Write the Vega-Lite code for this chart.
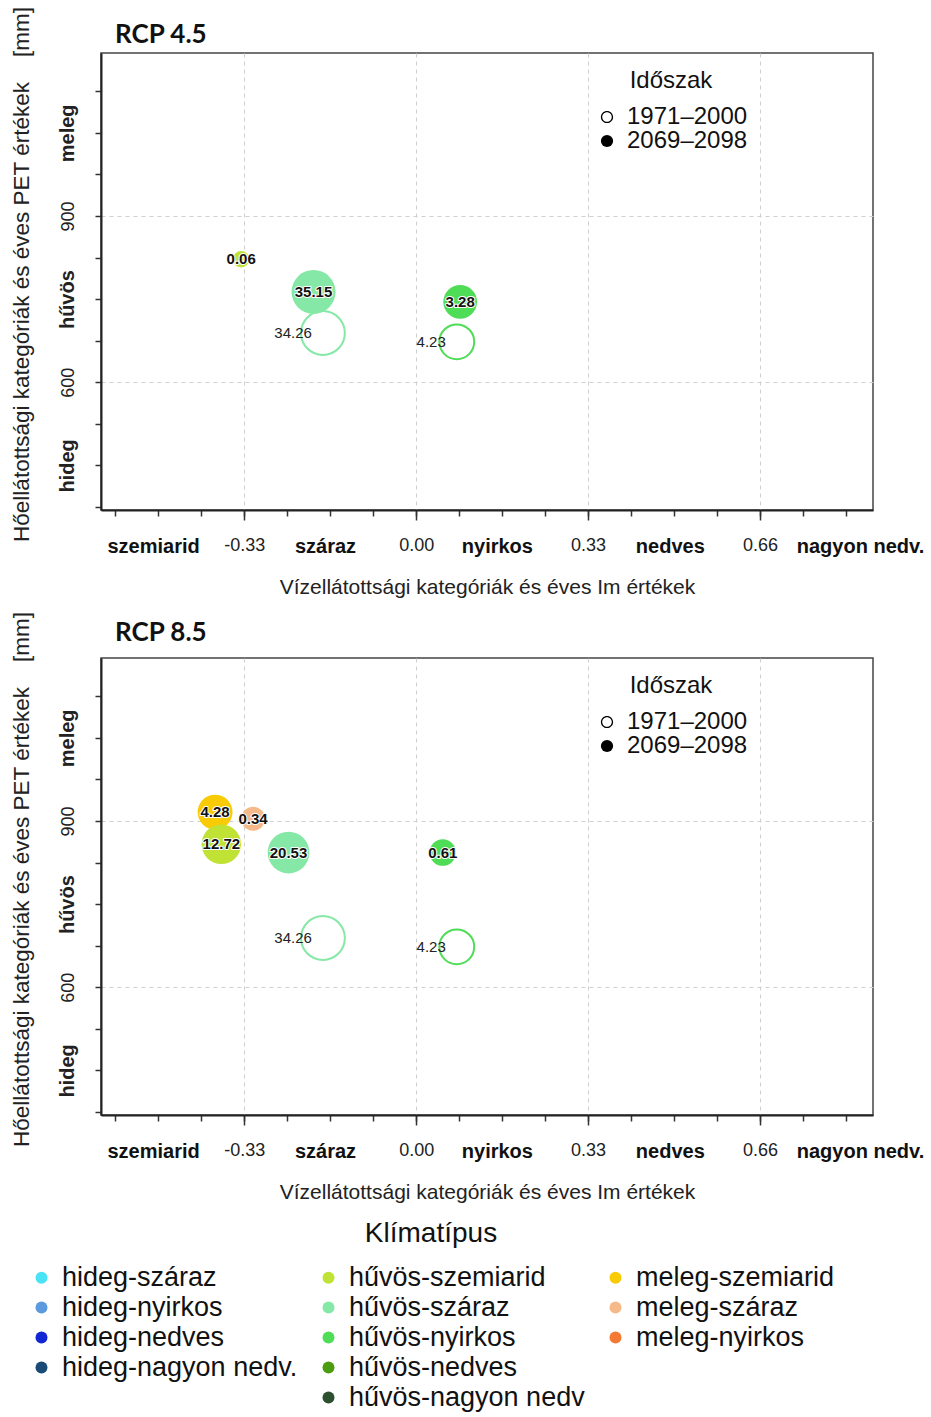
{
  "$schema": "https://vega.github.io/schema/vega-lite/v6.json",
  "background": "white",
  "padding": {"left": 9, "top": 5, "right": 2, "bottom": 2},
  "datasets": {
    "pontok": [
      {"panel": "RCP 4.5", "idoszak": "2069–2098", "klimatipus": "hűvös-szemiarid", "im": -0.336, "pet": 822, "arany": 0.06},
      {"panel": "RCP 4.5", "idoszak": "2069–2098", "klimatipus": "hűvös-száraz", "im": -0.197, "pet": 763, "arany": 35.15},
      {"panel": "RCP 4.5", "idoszak": "2069–2098", "klimatipus": "hűvös-nyirkos", "im": 0.0845, "pet": 745, "arany": 3.28},
      {"panel": "RCP 4.5", "idoszak": "1971–2000", "klimatipus": "hűvös-száraz", "im": -0.179, "pet": 689, "arany": 34.26},
      {"panel": "RCP 4.5", "idoszak": "1971–2000", "klimatipus": "hűvös-nyirkos", "im": 0.078, "pet": 673, "arany": 4.23},
      {"panel": "RCP 8.5", "idoszak": "2069–2098", "klimatipus": "meleg-szemiarid", "im": -0.386, "pet": 916, "arany": 4.28},
      {"panel": "RCP 8.5", "idoszak": "2069–2098", "klimatipus": "meleg-száraz", "im": -0.313, "pet": 904, "arany": 0.34},
      {"panel": "RCP 8.5", "idoszak": "2069–2098", "klimatipus": "hűvös-szemiarid", "im": -0.374, "pet": 858, "arany": 12.72},
      {"panel": "RCP 8.5", "idoszak": "2069–2098", "klimatipus": "hűvös-száraz", "im": -0.245, "pet": 843, "arany": 20.53},
      {"panel": "RCP 8.5", "idoszak": "2069–2098", "klimatipus": "hűvös-nyirkos", "im": 0.051, "pet": 843, "arany": 0.61},
      {"panel": "RCP 8.5", "idoszak": "1971–2000", "klimatipus": "hűvös-száraz", "im": -0.179, "pet": 689, "arany": 34.26},
      {"panel": "RCP 8.5", "idoszak": "1971–2000", "klimatipus": "hűvös-nyirkos", "im": 0.078, "pet": 673, "arany": 4.23}
    ]
  },
  "spacing": 148,
  "bounds": "flush",
  "resolve": {"scale": {"shape": "independent"}, "legend": {"shape": "independent"}},
  "vconcat": [
    {
      "title": {"text": "RCP 4.5", "anchor": "start", "frame": "group", "dx": 14, "offset": -63, "baseline": "alphabetic", "font": "Lato", "fontSize": 26, "fontWeight": "bold", "color": "#111"},
      "width": 772,
      "height": 457,
      "data": {"name": "pontok"},
      "transform": [{"filter": "datum.panel === 'RCP 4.5'"}],
      "resolve": {"axis": {"x": "independent", "y": "independent"}},
      "layer": [
        {
          "transform": [{"filter": "datum.idoszak === '2069–2098'"}],
          "mark": {"type": "point", "shape": "circle", "filled": true, "opacity": 1, "strokeWidth": 0},
          "encoding": {
            "x": {"field": "im", "type": "quantitative", "scale": {"domain": [-0.605, 0.877], "nice": false, "zero": false},
              "axis": {"orient": "bottom", "values": [-0.33, 0, 0.33, 0.66], "tickSize": 10, "labelPadding": 16, "labelFontSize": 18, "domain": false, "grid": true,
                "labelExpr": "abs(datum.value+0.33)<0.01 ? '-0.33' : abs(datum.value)<0.01 ? '0.00' : abs(datum.value-0.33)<0.01 ? '0.33' : '0.66'",
                "title": "Vízellátottsági kategóriák és éves Im értékek", "titleFontSize": 21, "titlePadding": 22}},
            "y": {"field": "pet", "type": "quantitative", "scale": {"domain": [369.6, 1194], "nice": false, "zero": false},
              "axis": {"orient": "left", "values": [375, 450, 525, 600, 675, 750, 825, 900, 975, 1050, 1125], "tickSize": 6, "labelPadding": 18, "grid": false,
                "labelAngle": 270, "labelAlign": "center", "labelBaseline": "bottom",
                "labelExpr": "datum.value == 1050 ? 'meleg' : datum.value == 900 ? '900' : datum.value == 750 ? 'hűvös' : datum.value == 600 ? '600' : datum.value == 450 ? 'hideg' : ''",
                "labelFontWeight": {"condition": {"test": "datum.value == 1050 || datum.value == 750 || datum.value == 450", "value": "bold"}, "value": "normal"},
                "labelFontSize": {"condition": {"test": "datum.value == 1050 || datum.value == 750 || datum.value == 450", "value": 20}, "value": 18},
                "title": "Hőellátottsági kategóriák és éves PET értékek\u00a0\u00a0\u00a0\u00a0[mm]", "titleFontSize": 22.5, "titlePadding": 24, "titleY": 221}},
            "fill": {"field": "klimatipus", "type": "nominal",
              "scale": {"domain": ["hideg-száraz", "hideg-nyirkos", "hideg-nedves", "hideg-nagyon nedv.", " ", "hűvös-szemiarid", "hűvös-száraz", "hűvös-nyirkos", "hűvös-nedves", "hűvös-nagyon nedv", "meleg-szemiarid", "meleg-száraz", "meleg-nyirkos", "  ", "   "],
                "range": ["#4ae2f5", "#5b9ade", "#1326d3", "#1a4b77", "transparent", "#bfe235", "#86e8a6", "#4fdc57", "#4c9c12", "#2b4f2f", "#f9cb05", "#f6b98a", "#f47a33", "transparent", "transparent"]},
              "legend": {"title": "Klímatípus", "orient": "none", "legendX": -73, "legendY": 1167, "direction": "vertical", "columns": 3, "gridAlign": "each", "symbolType": "circle", "symbolSize": 144, "symbolStrokeWidth": 0, "labelFontSize": 27, "labelLimit": 400, "labelOffset": 7, "rowPadding": 2, "columnPadding": 17, "titleFontSize": 28, "titleAnchor": "middle", "titlePadding": 16, "titleLimit": 600}},
            "size": {"field": "arany", "type": "quantitative", "scale": {"type": "log", "domain": [0.05, 0.3, 1, 3, 10, 40], "range": [240, 543, 812, 1109, 1482, 1980]}, "legend": null}
          }
        },
        {
          "transform": [{"filter": "datum.idoszak === '1971–2000'"}],
          "mark": {"type": "point", "shape": "circle", "filled": false, "strokeWidth": 2, "opacity": 1},
          "encoding": {
            "x": {"field": "im", "type": "quantitative",
              "axis": {"orient": "bottom", "values": [-0.5775, -0.495, -0.4125, -0.33, -0.2475, -0.165, -0.0825, 0, 0.0825, 0.165, 0.2475, 0.33, 0.4125, 0.495, 0.5775, 0.66, 0.7425, 0.825], "tickSize": 6, "labels": false, "grid": false, "domain": true, "title": null}},
            "y": {"field": "pet", "type": "quantitative",
              "axis": {"orient": "left", "values": [600, 900], "grid": true, "ticks": false, "labels": false, "domain": false, "title": null}},
            "stroke": {"field": "klimatipus", "type": "nominal",
              "scale": {"domain": ["hideg-száraz", "hideg-nyirkos", "hideg-nedves", "hideg-nagyon nedv.", " ", "hűvös-szemiarid", "hűvös-száraz", "hűvös-nyirkos", "hűvös-nedves", "hűvös-nagyon nedv", "meleg-szemiarid", "meleg-száraz", "meleg-nyirkos", "  ", "   "],
                "range": ["#4ae2f5", "#5b9ade", "#1326d3", "#1a4b77", "transparent", "#bfe235", "#86e8a6", "#4fdc57", "#4c9c12", "#2b4f2f", "#f9cb05", "#f6b98a", "#f47a33", "transparent", "transparent"]},
              "legend": null},
            "size": {"field": "arany", "type": "quantitative", "legend": null}
          }
        },
        {
          "mark": {"type": "point", "filled": true, "color": "black", "opacity": 0},
          "encoding": {
            "x": {"field": "im", "type": "quantitative", "axis": null},
            "y": {"field": "pet", "type": "quantitative", "axis": null},
            "shape": {"field": "idoszak", "type": "nominal",
              "scale": {"domain": ["1971–2000", "2069–2098"], "range": ["M-1,0A1,1,0,1,0,1,0A1,1,0,1,0,-1,0ZM-0.78,0A0.78,0.78,0,1,1,0.78,0A0.78,0.78,0,1,1,-0.78,0Z", "circle"]},
              "legend": {"title": "Időszak", "orient": "none", "legendX": 494, "legendY": 16, "direction": "vertical", "symbolSize": 150, "symbolOpacity": 1, "symbolStrokeWidth": 0, "labelFontSize": 24, "labelOffset": 8, "rowPadding": 0, "titleFontSize": 24, "titleAnchor": "middle", "titlePadding": 12}}
          }
        },
        {
          "transform": [{"filter": "datum.idoszak === '2069–2098'"}],
          "mark": {"type": "text", "font": "Liberation Sans", "fontWeight": "bold", "fontSize": 15, "baseline": "middle", "align": "center", "fill": "white", "stroke": "white", "strokeWidth": 2, "strokeJoin": "round"},
          "encoding": {
            "x": {"field": "im", "type": "quantitative", "axis": null},
            "y": {"field": "pet", "type": "quantitative", "axis": null},
            "text": {"field": "arany", "type": "quantitative", "format": ".2f"}
          }
        },
        {
          "transform": [{"filter": "datum.idoszak === '2069–2098'"}],
          "mark": {"type": "text", "font": "Liberation Sans", "fontWeight": "bold", "fontSize": 15, "baseline": "middle", "align": "center", "color": "#111"},
          "encoding": {
            "x": {"field": "im", "type": "quantitative",
              "axis": {"orient": "bottom", "values": [-0.505, -0.175, 0.155, 0.487, 0.852], "ticks": false, "tickSize": 0, "domain": false, "grid": false, "labelPadding": 26, "labelFontSize": 20, "labelFontWeight": "bold", "labelColor": "#111", "title": null,
                "labelExpr": "datum.value < -0.4 ? 'szemiarid' : datum.value < -0.1 ? 'száraz' : datum.value < 0.3 ? 'nyirkos' : datum.value < 0.6 ? 'nedves' : 'nagyon nedv.'"}},
            "y": {"field": "pet", "type": "quantitative", "axis": null},
            "text": {"field": "arany", "type": "quantitative", "format": ".2f"}
          }
        },
        {
          "transform": [{"filter": "datum.idoszak === '1971–2000'"}],
          "mark": {"type": "text", "font": "Liberation Sans", "fontSize": 15, "baseline": "middle", "align": "right", "dx": -11, "color": "#222"},
          "encoding": {
            "x": {"field": "im", "type": "quantitative", "axis": null},
            "y": {"field": "pet", "type": "quantitative", "axis": null},
            "text": {"field": "arany", "type": "quantitative", "format": ".2f"}
          }
        }
      ]
    },
    {
      "title": {"text": "RCP 8.5", "anchor": "start", "frame": "group", "dx": 14, "offset": -56, "baseline": "alphabetic", "font": "Lato", "fontSize": 26, "fontWeight": "bold", "color": "#111"},
      "width": 772,
      "height": 457,
      "data": {"name": "pontok"},
      "transform": [{"filter": "datum.panel === 'RCP 8.5'"}],
      "resolve": {"axis": {"x": "independent", "y": "independent"}},
      "layer": [
        {
          "transform": [{"filter": "datum.idoszak === '2069–2098'"}],
          "mark": {"type": "point", "shape": "circle", "filled": true, "opacity": 1, "strokeWidth": 0},
          "encoding": {
            "x": {"field": "im", "type": "quantitative", "scale": {"domain": [-0.605, 0.877], "nice": false, "zero": false},
              "axis": {"orient": "bottom", "values": [-0.33, 0, 0.33, 0.66], "tickSize": 10, "labelPadding": 16, "labelFontSize": 18, "domain": false, "grid": true,
                "labelExpr": "abs(datum.value+0.33)<0.01 ? '-0.33' : abs(datum.value)<0.01 ? '0.00' : abs(datum.value-0.33)<0.01 ? '0.33' : '0.66'",
                "title": "Vízellátottsági kategóriák és éves Im értékek", "titleFontSize": 21, "titlePadding": 22}},
            "y": {"field": "pet", "type": "quantitative", "scale": {"domain": [369.6, 1194], "nice": false, "zero": false},
              "axis": {"orient": "left", "values": [375, 450, 525, 600, 675, 750, 825, 900, 975, 1050, 1125], "tickSize": 6, "labelPadding": 18, "grid": false,
                "labelAngle": 270, "labelAlign": "center", "labelBaseline": "bottom",
                "labelExpr": "datum.value == 1050 ? 'meleg' : datum.value == 900 ? '900' : datum.value == 750 ? 'hűvös' : datum.value == 600 ? '600' : datum.value == 450 ? 'hideg' : ''",
                "labelFontWeight": {"condition": {"test": "datum.value == 1050 || datum.value == 750 || datum.value == 450", "value": "bold"}, "value": "normal"},
                "labelFontSize": {"condition": {"test": "datum.value == 1050 || datum.value == 750 || datum.value == 450", "value": 20}, "value": 18},
                "title": "Hőellátottsági kategóriák és éves PET értékek\u00a0\u00a0\u00a0\u00a0[mm]", "titleFontSize": 22.5, "titlePadding": 24, "titleY": 221}},
            "fill": {"field": "klimatipus", "type": "nominal",
              "scale": {"domain": ["hideg-száraz", "hideg-nyirkos", "hideg-nedves", "hideg-nagyon nedv.", " ", "hűvös-szemiarid", "hűvös-száraz", "hűvös-nyirkos", "hűvös-nedves", "hűvös-nagyon nedv", "meleg-szemiarid", "meleg-száraz", "meleg-nyirkos", "  ", "   "],
                "range": ["#4ae2f5", "#5b9ade", "#1326d3", "#1a4b77", "transparent", "#bfe235", "#86e8a6", "#4fdc57", "#4c9c12", "#2b4f2f", "#f9cb05", "#f6b98a", "#f47a33", "transparent", "transparent"]},
              "legend": {"title": "Klímatípus", "orient": "none", "legendX": -73, "legendY": 1167, "direction": "vertical", "columns": 3, "gridAlign": "each", "symbolType": "circle", "symbolSize": 144, "symbolStrokeWidth": 0, "labelFontSize": 27, "labelLimit": 400, "labelOffset": 7, "rowPadding": 2, "columnPadding": 17, "titleFontSize": 28, "titleAnchor": "middle", "titlePadding": 16, "titleLimit": 600}},
            "size": {"field": "arany", "type": "quantitative", "scale": {"type": "log", "domain": [0.05, 0.3, 1, 3, 10, 40], "range": [240, 543, 812, 1109, 1482, 1980]}, "legend": null}
          }
        },
        {
          "transform": [{"filter": "datum.idoszak === '1971–2000'"}],
          "mark": {"type": "point", "shape": "circle", "filled": false, "strokeWidth": 2, "opacity": 1},
          "encoding": {
            "x": {"field": "im", "type": "quantitative",
              "axis": {"orient": "bottom", "values": [-0.5775, -0.495, -0.4125, -0.33, -0.2475, -0.165, -0.0825, 0, 0.0825, 0.165, 0.2475, 0.33, 0.4125, 0.495, 0.5775, 0.66, 0.7425, 0.825], "tickSize": 6, "labels": false, "grid": false, "domain": true, "title": null}},
            "y": {"field": "pet", "type": "quantitative",
              "axis": {"orient": "left", "values": [600, 900], "grid": true, "ticks": false, "labels": false, "domain": false, "title": null}},
            "stroke": {"field": "klimatipus", "type": "nominal",
              "scale": {"domain": ["hideg-száraz", "hideg-nyirkos", "hideg-nedves", "hideg-nagyon nedv.", " ", "hűvös-szemiarid", "hűvös-száraz", "hűvös-nyirkos", "hűvös-nedves", "hűvös-nagyon nedv", "meleg-szemiarid", "meleg-száraz", "meleg-nyirkos", "  ", "   "],
                "range": ["#4ae2f5", "#5b9ade", "#1326d3", "#1a4b77", "transparent", "#bfe235", "#86e8a6", "#4fdc57", "#4c9c12", "#2b4f2f", "#f9cb05", "#f6b98a", "#f47a33", "transparent", "transparent"]},
              "legend": null},
            "size": {"field": "arany", "type": "quantitative", "legend": null}
          }
        },
        {
          "mark": {"type": "point", "filled": true, "color": "black", "opacity": 0},
          "encoding": {
            "x": {"field": "im", "type": "quantitative", "axis": null},
            "y": {"field": "pet", "type": "quantitative", "axis": null},
            "shape": {"field": "idoszak", "type": "nominal",
              "scale": {"domain": ["1971–2000", "2069–2098"], "range": ["M-1,0A1,1,0,1,0,1,0A1,1,0,1,0,-1,0ZM-0.78,0A0.78,0.78,0,1,1,0.78,0A0.78,0.78,0,1,1,-0.78,0Z", "circle"]},
              "legend": {"title": "Időszak", "orient": "none", "legendX": 494, "legendY": 16, "direction": "vertical", "symbolSize": 150, "symbolOpacity": 1, "symbolStrokeWidth": 0, "labelFontSize": 24, "labelOffset": 8, "rowPadding": 0, "titleFontSize": 24, "titleAnchor": "middle", "titlePadding": 12}}
          }
        },
        {
          "transform": [{"filter": "datum.idoszak === '2069–2098'"}],
          "mark": {"type": "text", "font": "Liberation Sans", "fontWeight": "bold", "fontSize": 15, "baseline": "middle", "align": "center", "fill": "white", "stroke": "white", "strokeWidth": 2, "strokeJoin": "round"},
          "encoding": {
            "x": {"field": "im", "type": "quantitative", "axis": null},
            "y": {"field": "pet", "type": "quantitative", "axis": null},
            "text": {"field": "arany", "type": "quantitative", "format": ".2f"}
          }
        },
        {
          "transform": [{"filter": "datum.idoszak === '2069–2098'"}],
          "mark": {"type": "text", "font": "Liberation Sans", "fontWeight": "bold", "fontSize": 15, "baseline": "middle", "align": "center", "color": "#111"},
          "encoding": {
            "x": {"field": "im", "type": "quantitative",
              "axis": {"orient": "bottom", "values": [-0.505, -0.175, 0.155, 0.487, 0.852], "ticks": false, "tickSize": 0, "domain": false, "grid": false, "labelPadding": 26, "labelFontSize": 20, "labelFontWeight": "bold", "labelColor": "#111", "title": null,
                "labelExpr": "datum.value < -0.4 ? 'szemiarid' : datum.value < -0.1 ? 'száraz' : datum.value < 0.3 ? 'nyirkos' : datum.value < 0.6 ? 'nedves' : 'nagyon nedv.'"}},
            "y": {"field": "pet", "type": "quantitative", "axis": null},
            "text": {"field": "arany", "type": "quantitative", "format": ".2f"}
          }
        },
        {
          "transform": [{"filter": "datum.idoszak === '1971–2000'"}],
          "mark": {"type": "text", "font": "Liberation Sans", "fontSize": 15, "baseline": "middle", "align": "right", "dx": -11, "color": "#222"},
          "encoding": {
            "x": {"field": "im", "type": "quantitative", "axis": null},
            "y": {"field": "pet", "type": "quantitative", "axis": null},
            "text": {"field": "arany", "type": "quantitative", "format": ".2f"}
          }
        }
      ]
    }
  ],
  "config": {
    "font": "Liberation Sans",
    "view": {"stroke": "#444", "strokeWidth": 1.5},
    "axis": {"labelFont": "Liberation Sans", "titleFont": "Liberation Sans", "labelColor": "#222", "titleColor": "#222", "titleFontWeight": "normal", "tickColor": "#333", "tickWidth": 1.5, "domainColor": "#222", "domainWidth": 2, "gridColor": "#cfcfcf", "gridDash": [4, 4], "gridWidth": 1, "labelOverlap": false, "labelFlush": false, "labelBound": false},
    "legend": {"labelFont": "Liberation Sans", "titleFont": "Liberation Sans", "labelColor": "#111", "titleColor": "#111", "titleFontWeight": "normal"}
  }
}
